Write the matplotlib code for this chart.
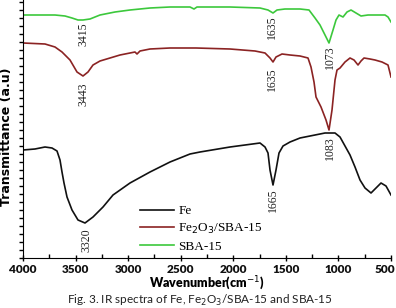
import matplotlib
matplotlib.use("Agg")
import matplotlib.pyplot as plt
import matplotlib.transforms as mtransforms
import numpy as np
from matplotlib.ticker import MultipleLocator, NullFormatter

# ---- data (wavenumber in cm^-1, transmittance in a.u. with vertical offsets) ----
PX0, PXS = 23, 0.10514
def w(px):
    return 4000 - (px - PX0) / PXS
def t(py):
    return (258 - py) / 8.0

sba_px = [23,40,55,65,72,78,83,90,100,115,130,150,170,190,194,197,230,260,268,273,277,285,300,309,315,320,324,329,333,336,339,343,347,351,356,361,368,385,388,391]
sba_py = [15,15,15,16,18,20,20,19,15,12,10,8,7,7,9,7,7,8,10,13,10,9,9,10,18,25,33,43,30,20,15,17,12,10,13,16,15,15,17,22]

fe2o3_px = [23,45,55,62,70,77,83,88,93,100,110,120,130,135,137,140,150,170,196,230,255,265,270,273,276,282,290,300,308,311,314,316,321,326,329,332,335,337,340,345,350,354,358,361,364,370,375,382,388,391]
fe2o3_py = [43,44,47,52,60,72,76,72,65,61,58,55,53,52,54,51,49,48,48,49,51,53,58,62,57,54,55,56,58,67,82,97,107,120,130,110,80,70,68,62,58,60,65,61,58,59,60,62,65,77]

fe_px = [23,35,45,52,57,60,62,64,67,72,78,85,93,103,113,130,150,170,190,200,230,260,265,268,270,273,276,279,283,290,300,315,325,335,340,345,350,355,360,365,371,376,381,386,391]
fe_py = [150,149,147,148,151,160,172,183,197,210,220,223,217,207,195,183,172,162,154,152,147,143,147,153,170,185,170,153,146,142,138,135,133,133,137,146,155,167,180,188,193,188,183,186,195]

sba_wn = [w(p) for p in sba_px];     sba_t = [t(p) for p in sba_py]
fe2o3_wn = [w(p) for p in fe2o3_px]; fe2o3_t = [t(p) for p in fe2o3_py]
fe_wn = [w(p) for p in fe_px];       fe_t = [t(p) for p in fe_py]

# peak labels: text, pixel centre (x, y)
peak_text = ["3415", "1635", "1073", "3443", "1635", "1083", "3320", "1665"]
peak_cx = [83, 272, 330, 83, 272, 330, 86, 273]
peak_cy = [34, 27, 57, 94, 79, 148, 240, 200]

series_labels = ["Fe", "Fe$_2$O$_3$/SBA-15", "SBA-15"]
colors = ["#111111", "#8B2323", "#3CC83C"]

W, H = 396, 308
fig = plt.figure(figsize=(W/100, H/100), dpi=100)
ax = fig.add_axes([23/W, (H-258)/H, (391-23)/W, 258/H])

ax.plot(fe_wn, fe_t, color=colors[0], lw=1.2, label=series_labels[0])
ax.plot(fe2o3_wn, fe2o3_t, color=colors[1], lw=1.2, label=series_labels[1])
ax.plot(sba_wn, sba_t, color=colors[2], lw=1.2, label=series_labels[2])

ax.set_xlim(4000, 500)
ax.set_ylim(0, 258/8.0)

for txt, cx, cy in zip(peak_text, peak_cx, peak_cy):
    ax.text(w(cx), t(cy), txt, rotation=90, ha="center", va="center",
            family="Liberation Serif", fontsize=8.5, color="#222222")

ax.spines["top"].set_visible(False)
ax.spines["right"].set_visible(False)
ax.xaxis.set_major_locator(MultipleLocator(500))
ax.xaxis.set_minor_locator(MultipleLocator(250))
ax.yaxis.set_major_locator(MultipleLocator(1))
ax.yaxis.set_major_formatter(NullFormatter())
ax.tick_params(axis="x", which="major", direction="inout", length=5, width=1, pad=2)
ax.tick_params(axis="x", which="minor", direction="in", length=3, width=1)
ax.tick_params(axis="y", which="major", direction="out", length=3, width=1)
fig.canvas.draw()
labs = ax.get_xticklabels()
for lab in labs:
    lab.set_family("Lato"); lab.set_fontweight("heavy"); lab.set_fontsize(8.5); lab.set_color("#111111")
# nudge the last label ("500") so it stays inside the picture
last = [l for l in labs if l.get_text() == "500"]
for l in last:
    l.set_transform(l.get_transform() + mtransforms.ScaledTranslation(-6/100, 0, fig.dpi_scale_trans))

ax.set_xlabel("Wavenumber(cm$^{-1}$)", family="Lato", fontweight="heavy", fontsize=9, labelpad=0)
fig.text(7/W, 1 - 137/H, "Transmittance (a.u)", rotation=90, ha="center", va="center",
         family="Liberation Sans Narrow", fontweight="bold", fontsize=9)

leg = ax.legend(loc="upper left", bbox_to_anchor=((140-23)/368, (258-205)/258), frameon=False,
                prop={"family": "Liberation Serif", "size": 9.5}, handlelength=2.6,
                handletextpad=0.3, labelspacing=0.35, borderpad=0, borderaxespad=0)

fig.text(200/W, 0.5/H, "Fig. 3. IR spectra of Fe, Fe$_2$O$_3$/SBA-15 and SBA-15",
         ha="center", va="bottom", family="Lato", fontsize=8.5, color="#222222")

fig.savefig("out.png", dpi=100)
